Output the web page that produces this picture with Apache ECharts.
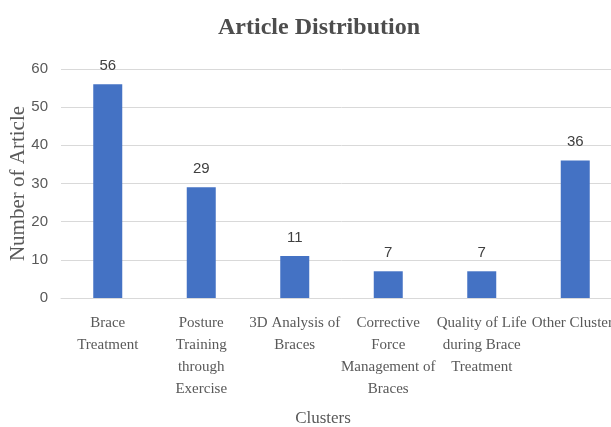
<!DOCTYPE html>
<html><head><meta charset="utf-8">
<script src="https://cdn.jsdelivr.net/npm/echarts@6/dist/echarts.min.js"></script>
<style>html,body{margin:0;padding:0;background:#fff;overflow:hidden;width:611px;height:427px}#c{width:640px;height:427px}</style>
</head><body><div id="c"></div>
<script>
var categories = ["Brace\nTreatment", "Posture\nTraining\nthrough\nExercise", "3D Analysis of\nBraces", "Corrective\nForce\nManagement of\nBraces", "Quality of Life\nduring Brace\nTreatment", "Other Clusters"];
var values = [56, 29, 11, 7, 7, 36];
var yTicks = [0, 10, 20, 30, 40, 50, 60];

var chart = echarts.init(document.getElementById('c'));
chart.setOption({
  animation: false,
  title: {
    text: 'Article Distribution', left: 314, top: 11, textAlign: 'center',
    textStyle: {fontFamily: 'Liberation Serif', fontWeight: 'bold', fontSize: 24, color: '#4d4d4d'}
  },
  grid: {left: 61, top: 69, width: 561, height: 229, outerBoundsMode: 'none', containLabel: false},
  xAxis: {
    type: 'category', data: categories,
    name: 'Clusters', nameLocation: 'middle', nameGap: 112,
    nameTextStyle: {fontFamily: 'Liberation Serif', fontSize: 17, color: '#595959', padding: [0, 37, 0, 0]},
    axisLine: {show: true, lineStyle: {color: '#d9d9d9'}},
    axisTick: {show: false},
    axisLabel: {interval: 0, fontFamily: 'Liberation Serif', fontSize: 15, color: '#595959', lineHeight: 22, margin: 14, hideOverlap: false},
    nameMoveOverlap: false
  },
  yAxis: {
    type: 'value', min: 0, max: 60, interval: 10,
    name: 'Number of Article', nameLocation: 'middle', nameGap: 32,
    nameTextStyle: {fontFamily: 'Liberation Serif', fontSize: 21, color: '#595959'},
    axisLine: {show: false}, axisTick: {show: false},
    axisLabel: {fontFamily: 'Liberation Sans Narrow, Liberation Sans', fontSize: 15, color: '#595959', margin: 13,
      formatter: function (v) { return yTicks.indexOf(v) >= 0 ? String(v) : ''; }},
    splitLine: {lineStyle: {color: '#d9d9d9'}},
    nameMoveOverlap: false
  },
  series: [{
    type: 'bar', data: values, barWidth: 29,
    itemStyle: {color: '#4472C4'},
    label: {show: true, position: 'top', distance: 11, fontFamily: 'Liberation Sans Narrow, Liberation Sans', fontSize: 15, color: '#404040'}
  }]
});
</script></body></html>
